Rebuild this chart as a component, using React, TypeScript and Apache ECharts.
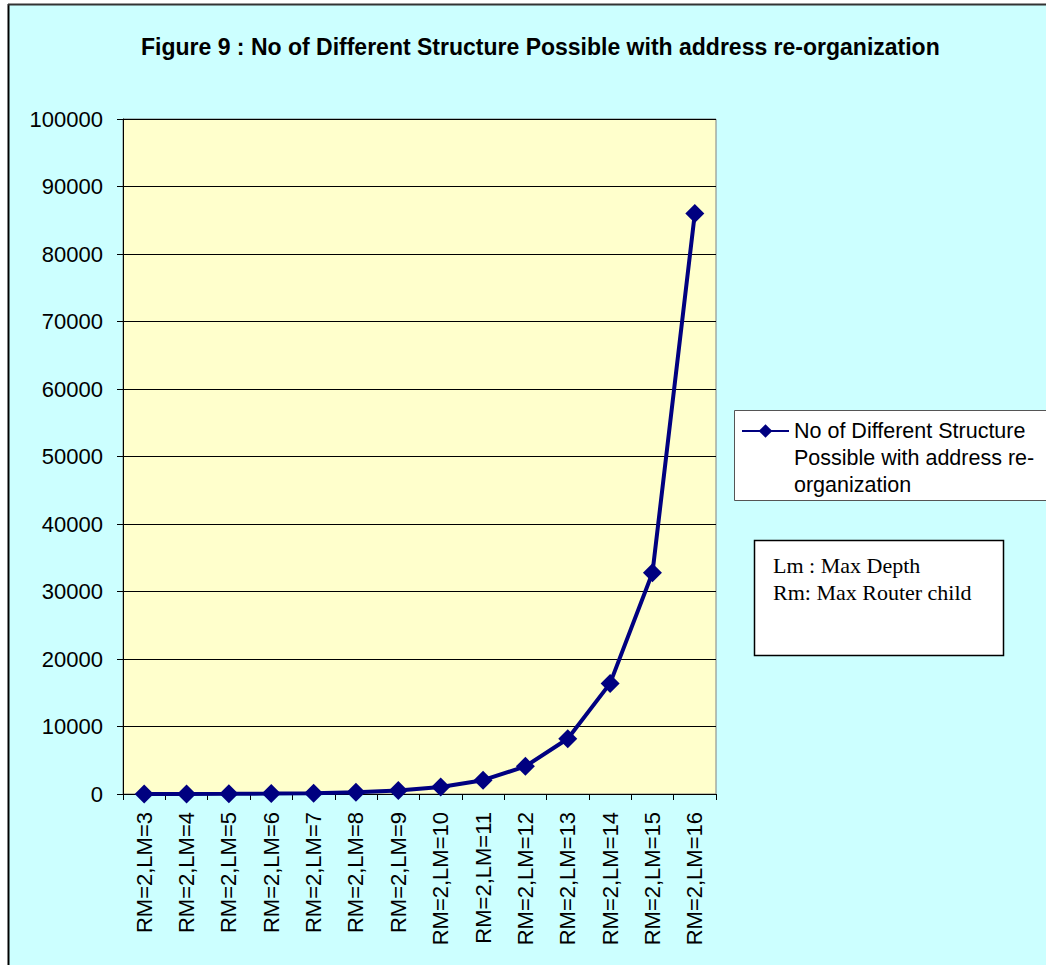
import React, { useEffect, useRef } from "react";
import * as echarts from "echarts";

const titleText = "Figure 9 : No of Different Structure Possible with address re-organization";
const seriesName = "No of Different Structure Possible with address re-organization";
const legendLines = ["No of Different Structure", "Possible with address re-", "organization"];
const categories = [
  "RM=2,LM=3", "RM=2,LM=4", "RM=2,LM=5", "RM=2,LM=6", "RM=2,LM=7",
  "RM=2,LM=8", "RM=2,LM=9", "RM=2,LM=10", "RM=2,LM=11", "RM=2,LM=12",
  "RM=2,LM=13", "RM=2,LM=14", "RM=2,LM=15", "RM=2,LM=16",
];
const values = [8, 16, 32, 64, 128, 256, 512, 1024, 2048, 4096, 8192, 16384, 32768, 86000];
const noteLines = ["Lm : Max Depth", "Rm: Max Router child"];
const yMin = 0;
const yMax = 100000;
const yInterval = 10000;

export default function App() {
  const ref = useRef<HTMLDivElement>(null);
  useEffect(() => {
    if (!ref.current) return;
    const chart = echarts.init(ref.current, null, { renderer: "svg" });
    const font = "Arial, 'Liberation Sans', Helvetica, sans-serif";
    const lh = 27;
    chart.setOption({
      animation: false,
      backgroundColor: "#CCFFFF",
      title: {
        text: titleText,
        left: 136,
        top: 30,
        textStyle: { fontFamily: font, fontSize: 23, fontWeight: "bold", color: "#000" },
      },
      grid: {
        left: 123,
        top: 119,
        width: 593,
        height: 675,
        show: true,
        backgroundColor: "#FFFFCC",
        borderColor: "#808080",
        borderWidth: 1,
      },
      legend: {
        left: 741,
        top: 431 - (lh * 5) / 2,
        padding: 0,
        itemWidth: 47,
        itemHeight: 17,
        data: [seriesName],
        formatter: () => " \n \n" + legendLines.join("\n"),
        textStyle: {
          fontFamily: font,
          fontSize: 21.5,
          color: "#000",
          lineHeight: lh,
        },
        z: 5,
      },
      xAxis: {
        type: "category",
        data: categories,
        boundaryGap: true,
        axisLine: { lineStyle: { color: "#000", width: 1 } },
        axisTick: { show: true, length: 6, lineStyle: { color: "#000" } },
        axisLabel: {
          rotate: 90,
          interval: 0,
          margin: 18,
          fontFamily: font,
          fontSize: 22,
          color: "#000",
        },
      },
      yAxis: {
        type: "value",
        min: yMin,
        max: yMax,
        interval: yInterval,
        axisLine: { show: true, lineStyle: { color: "#000", width: 1 } },
        axisTick: { show: true, length: 6, lineStyle: { color: "#000" } },
        splitLine: { show: true, lineStyle: { color: "#000", width: 1 } },
        axisLabel: {
          margin: 20,
          fontFamily: font,
          fontSize: 22,
          color: "#000",
          formatter: (v: number) => String(v),
        },
      },
      series: [
        {
          name: seriesName,
          type: "line",
          data: values,
          symbol: "diamond",
          symbolSize: 19,
          itemStyle: { color: "#000080" },
          lineStyle: { color: "#000080", width: 4 },
        },
      ],
      graphic: [
        { type: "rect", shape: { x: 0, y: 0, width: 8, height: 965 }, style: { fill: "#FFFFFF" }, silent: true },
        { type: "rect", shape: { x: 0, y: 0, width: 1046, height: 4 }, style: { fill: "#FFFFFF" }, silent: true },
        { type: "line", shape: { x1: 8.5, y1: 4, x2: 8.5, y2: 965 }, style: { stroke: "#000", lineWidth: 2 }, silent: true },
        { type: "line", shape: { x1: 8, y1: 4.5, x2: 1046, y2: 4.5 }, style: { stroke: "#333", lineWidth: 2 }, silent: true },
        {
          type: "rect",
          z: 0,
          shape: { x: 734.5, y: 410.5, width: 330, height: 90 },
          style: { fill: "#FFFFFF", stroke: "#555", lineWidth: 1 },
          silent: true,
        },
        {
          type: "rect",
          z: 0,
          shape: { x: 754.5, y: 540.5, width: 249, height: 115 },
          style: { fill: "#FFFFFF", stroke: "#000", lineWidth: 1.5 },
          silent: true,
        },
        {
          type: "text",
          left: 773,
          top: 552,
          style: {
            text: noteLines.join("\n"),
            fontFamily: "'Liberation Serif', 'Times New Roman', serif",
            fontSize: 22,
            lineHeight: 27,
            fill: "#000",
          },
          silent: true,
        },
      ],
    });
    return () => chart.dispose();
  }, []);
  return <div ref={ref} style={{ position: "absolute", left: 0, top: 0, width: 1046, height: 965 }} />;
}
